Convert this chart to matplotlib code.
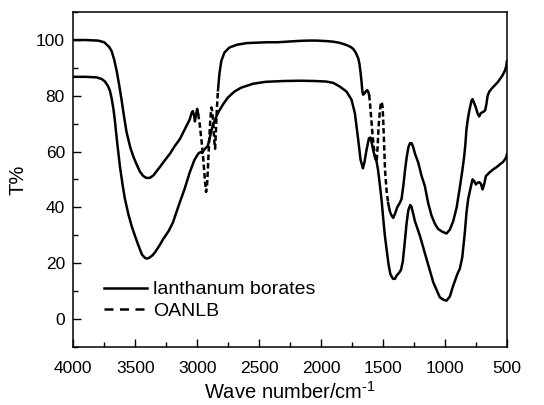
import numpy as np
import matplotlib
matplotlib.use("Agg")
import matplotlib.pyplot as plt
from matplotlib.ticker import MultipleLocator

plt.rcParams['font.family'] = ['Liberation Sans', 'DejaVu Sans']
plt.rcParams['mathtext.fontset'] = 'custom'
plt.rcParams['mathtext.rm'] = 'Liberation Sans'

# OANLB (upper curve), wave number / T%
oanlb_wn = [4000, 3900, 3800, 3750, 3710, 3690, 3670, 3650, 3630, 3610, 3590, 3570,
            3540, 3516, 3490, 3462, 3435, 3408, 3380, 3354, 3300, 3250, 3220, 3180,
            3139, 3100, 3060, 3045, 3035, 3025, 3018, 3010, 3000, 2992, 2980, 2965,
            2950, 2938, 2928, 2920, 2912, 2903, 2893, 2885, 2878, 2870, 2862, 2855,
            2848, 2840, 2832, 2820, 2805, 2780, 2740, 2680, 2601, 2500, 2440, 2350,
            2250, 2171, 2100, 2036, 1950, 1901, 1850, 1794, 1760, 1740, 1720, 1700,
            1690, 1680, 1673, 1666, 1660, 1650, 1638, 1628, 1620, 1612, 1606, 1596,
            1585, 1575, 1565, 1557, 1550, 1543, 1535, 1525, 1518, 1510, 1503, 1497,
            1490, 1483, 1471, 1458, 1444, 1430, 1417, 1400, 1385, 1365, 1350, 1335,
            1320, 1310, 1295, 1282, 1269, 1255, 1240, 1215, 1190, 1162, 1135, 1108,
            1080, 1054, 1020, 987, 960, 933, 905, 880, 860, 845, 835, 826, 812, 799,
            785, 777, 765, 750, 735, 723, 710, 691, 675, 665, 655, 642, 620, 597,
            575, 556, 535, 516, 505, 500]
oanlb_t = [100.0, 100.0, 99.8, 99.2, 97.5, 96.0, 93.0, 89.0, 84.0, 78.5, 72.5, 67.0,
           61.5, 58.3, 55.5, 52.8, 51.2, 50.5, 50.6, 51.4, 54.5, 57.5, 59.2, 62.0,
           64.5, 68.0, 71.5, 73.8, 74.5, 73.0, 70.8, 73.0, 75.3, 73.5, 70.0, 64.0,
           57.0, 50.0, 45.5, 48.0, 55.0, 64.0, 72.0, 75.8, 74.5, 70.5, 64.0, 61.0,
           68.0, 76.0, 82.0, 88.0, 92.5, 95.5, 97.3, 98.3, 98.9, 99.1, 99.2, 99.2,
           99.5, 99.7, 99.8, 99.8, 99.6, 99.4, 99.0, 98.2, 97.5, 96.8, 95.5, 93.5,
           91.5, 88.0, 85.0, 81.5, 80.4, 80.8, 81.6, 82.0, 81.6, 80.3, 78.0, 72.5,
           66.5, 62.0, 58.5, 56.5, 57.0, 62.0, 69.0, 74.5, 77.0, 77.8, 76.0, 70.0,
           61.0, 53.0, 46.0, 41.5, 38.5, 37.0, 36.2, 38.0, 40.0, 41.5, 43.0, 48.0,
           54.0, 57.5, 61.5, 63.0, 63.0, 61.5, 59.0, 56.0, 51.5, 47.6, 41.5, 37.0,
           34.0, 32.2, 31.2, 30.6, 32.0, 35.0, 40.0, 47.0, 53.0, 58.0, 62.5, 68.0,
           72.5, 75.5, 78.3, 78.8, 77.5, 75.8, 73.5, 72.6, 73.8, 74.2, 74.8, 77.0,
           80.0, 81.5, 82.7, 83.8, 84.8, 86.0, 87.3, 89.0, 90.5, 92.3]

# lanthanum borates (lower curve)
lb_wn = [4000, 3900, 3812, 3770, 3744, 3720, 3704, 3690, 3675, 3664, 3645, 3623,
         3600, 3583, 3555, 3529, 3500, 3475, 3445, 3420, 3408, 3390, 3360, 3341,
         3300, 3274, 3230, 3196, 3150, 3102, 3060, 3022, 2990, 2973, 2960, 2941,
         2914, 2895, 2874, 2833, 2790, 2753, 2700, 2645, 2550, 2450, 2300, 2171,
         2050, 1956, 1900, 1848, 1794, 1754, 1727, 1700, 1681, 1662, 1650, 1633,
         1613, 1600, 1590, 1579, 1565, 1552, 1540, 1525, 1510, 1498, 1485, 1471,
         1455, 1440, 1420, 1404, 1390, 1370, 1355, 1340, 1325, 1310, 1295, 1280,
         1270, 1255, 1242, 1202, 1148, 1094, 1041, 1010, 987, 960, 933, 900, 880,
         860, 839, 826, 812, 795, 777, 765, 750, 736, 723, 710, 696, 682, 669,
         640, 610, 580, 556, 530, 516, 505, 500]
lb_t = [86.8, 86.8, 86.6, 86.0, 85.1, 83.5, 81.8, 79.0, 75.0, 71.0, 63.0, 54.5,
        47.5, 43.0, 37.5, 33.3, 29.5, 26.4, 23.0, 21.8, 21.6, 21.8, 22.8, 23.8,
        26.6, 28.6, 31.5, 34.5, 40.5, 46.5, 52.5, 57.0, 59.3, 59.8, 59.5, 60.8,
        62.0, 65.5, 69.5, 73.8, 77.0, 79.3, 81.5, 82.9, 84.3, 85.0, 85.3, 85.4,
        85.3, 85.1, 84.6, 83.3, 81.5, 78.6, 73.8, 64.3, 57.1, 54.0, 56.0, 60.5,
        64.8, 65.0, 63.0, 60.5, 58.0, 56.5, 53.5, 48.0, 42.0, 36.0, 30.0, 25.0,
        19.5, 16.0, 14.4, 14.3, 15.5, 16.5, 17.5, 20.5, 27.0, 34.0, 39.0, 40.8,
        40.2, 37.5, 35.0, 29.8, 21.4, 13.1, 7.7, 6.8, 6.5, 8.0, 11.9, 16.0, 17.9,
        22.0, 31.0, 38.0, 43.0, 46.5, 50.0, 49.5, 48.2, 48.8, 49.0, 48.5, 46.4,
        48.5, 51.2, 52.5, 53.6, 54.5, 55.4, 56.3, 57.1, 58.0, 58.9]

# parts of OANLB where the dashes show (steep narrow bands)
dash_ranges = [(2832, 2992), (1458, 1612)]

oanlb_wn = np.array(oanlb_wn)
oanlb_t = np.array(oanlb_t)
dashed = np.zeros(len(oanlb_wn), dtype=bool)
for lo, hi in dash_ranges:
    dashed |= (oanlb_wn >= lo) & (oanlb_wn <= hi)
inner = dashed.copy()
for lo, hi in dash_ranges:
    inner &= ~np.isin(oanlb_wn, [lo, hi])

fig = plt.figure(figsize=(5.44, 4.05), dpi=100)
ax = fig.add_axes([0.1347, 0.144, 0.797, 0.826])

lw = 1.8
ax.plot(lb_wn, lb_t, color='black', lw=lw, label='lanthanum borates')
ax.plot(oanlb_wn, np.where(inner, np.nan, oanlb_t), color='black', lw=lw)
ax.plot(oanlb_wn, np.where(dashed, oanlb_t, np.nan), color='black', lw=lw,
        dashes=(2.2, 1.2))
ax.plot([], [], color='black', lw=lw, dashes=(3.6, 2.6), label='OANLB')

ax.set_xlim(4000, 500)
ax.set_ylim(-10, 110)
ax.xaxis.set_major_locator(MultipleLocator(500))
ax.xaxis.set_minor_locator(MultipleLocator(250))
ax.yaxis.set_major_locator(MultipleLocator(20))
ax.yaxis.set_minor_locator(MultipleLocator(10))
ax.tick_params(which='both', direction='in', top=False, right=False,
               labelsize=12.5, width=1.0)
ax.tick_params(which='major', length=6, pad=6)
ax.tick_params(which='minor', length=3.5)
ax.tick_params(axis='x', which='major', pad=10)
for s in ax.spines.values():
    s.set_linewidth(1.1)

ax.set_xlabel('Wave number/cm$^{\\text{-1}}$', fontsize=14.5, labelpad=4)
ax.set_ylabel('T%', fontsize=14.5, labelpad=6)

ax.legend(loc='lower left', bbox_to_anchor=(0.072, 0.08), frameon=False,
          fontsize=14, handlelength=2.2, handletextpad=0.3,
          labelspacing=0.2, borderpad=0, borderaxespad=0)

fig.savefig('out.png', dpi=100)
